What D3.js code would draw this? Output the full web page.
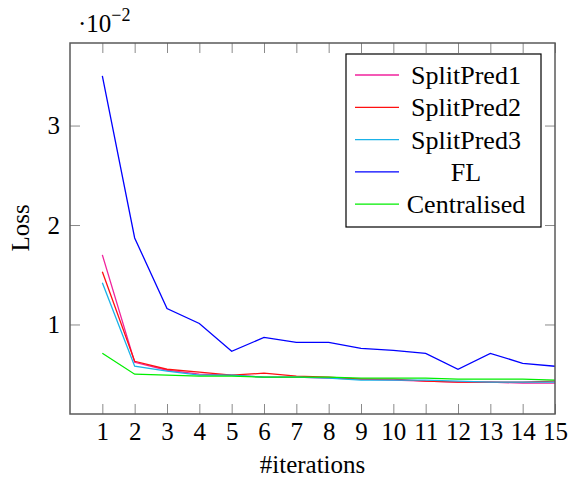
<!DOCTYPE html>
<html>
<head>
<meta charset="utf-8">
<script src="https://cdn.jsdelivr.net/npm/d3@7"></script>
<style>
  body { margin: 0; background: #fff; }
  text { font-family: "Liberation Serif", "Times New Roman", serif; fill: #000; }
</style>
</head>
<body>
<div id="chart"></div>
<script>
// data (loss values, x10^-2)
const iterations = [1, 2, 3, 4, 5, 6, 7, 8, 9, 10, 11, 12, 13, 14, 15];
const seriesNames = ["SplitPred1", "SplitPred2", "SplitPred3", "FL", "Centralised"];
const splitPred1 = [1.70, 0.62, 0.54, 0.50, 0.49, 0.47, 0.47, 0.46, 0.45, 0.44, 0.43, 0.42, 0.42, 0.41, 0.41];
const splitPred2 = [1.53, 0.63, 0.55, 0.52, 0.49, 0.51, 0.48, 0.47, 0.45, 0.45, 0.43, 0.42, 0.42, 0.42, 0.43];
const splitPred3 = [1.42, 0.58, 0.53, 0.49, 0.49, 0.47, 0.47, 0.46, 0.44, 0.44, 0.44, 0.43, 0.42, 0.42, 0.42];
const fl = [3.50, 1.87, 1.16, 1.01, 0.73, 0.87, 0.82, 0.82, 0.76, 0.74, 0.71, 0.55, 0.71, 0.61, 0.58];
const centralised = [0.71, 0.50, 0.49, 0.48, 0.48, 0.47, 0.47, 0.47, 0.46, 0.46, 0.46, 0.45, 0.45, 0.45, 0.44];
const yTicks = [1, 2, 3];

const colors = ["#f0229c", "#ff1010", "#1ab2e8", "#0000ff", "#00ee00"];
const allSeries = [splitPred1, splitPred2, splitPred3, fl, centralised];

const width = 569, height = 481;
const margin = { top: 43, right: 14, bottom: 67, left: 70 };

let svg = d3.select("#chart")
    .append("svg")
    .attr("width", width)
    .attr("height", height);

let x = d3.scaleLinear().domain([0, 15]).range([margin.left, width - margin.right]);
let y = d3.scaleLinear().domain([0.1, 3.83]).range([height - margin.bottom, margin.top]);

const tickColor = "#8a8a8a";

// bottom axis (ticks pointing inward)
let gx = svg.append("g")
    .attr("transform", "translate(0," + y.range()[0] + ")")
    .call(d3.axisBottom(x).tickValues(iterations).tickSize(-10).tickPadding(8).tickFormat(d3.format("d")));
// top axis ticks
let gxTop = svg.append("g")
    .attr("transform", "translate(0," + y.range()[1] + ")")
    .call(d3.axisTop(x).tickValues(iterations).tickSize(-10).tickFormat(""));
// left axis
let gy = svg.append("g")
    .attr("transform", "translate(" + x.range()[0] + ",0)")
    .call(d3.axisLeft(y).tickValues(yTicks).tickSize(-10).tickPadding(10).tickFormat(d3.format("d")));
// right axis ticks
let gyRight = svg.append("g")
    .attr("transform", "translate(" + x.range()[1] + ",0)")
    .call(d3.axisRight(y).tickValues(yTicks).tickSize(-10).tickFormat(""));

[gx, gxTop, gy, gyRight].forEach(g => {
    g.select(".domain").remove();
    g.selectAll(".tick line").attr("stroke", tickColor).attr("stroke-width", 1);
    g.selectAll("text").style("font-family", "Liberation Serif, serif").style("font-size", "25px").attr("fill", "#000");
});

// lines
let line = d3.line()
    .x((d, i) => x(iterations[i]))
    .y(d => y(d));

svg.selectAll(".series")
    .data(allSeries)
    .enter()
    .append("path")
    .attr("class", "series")
    .attr("d", d => line(d))
    .attr("fill", "none")
    .attr("stroke", (d, i) => colors[i])
    .attr("stroke-width", 1.3);

// frame
svg.append("rect")
    .attr("x", x.range()[0])
    .attr("y", y.range()[1])
    .attr("width", x.range()[1] - x.range()[0])
    .attr("height", y.range()[0] - y.range()[1])
    .attr("fill", "none")
    .attr("stroke", "#5a5a5a")
    .attr("stroke-width", 1.5);

// scale label
let scaleLabel = svg.append("text")
    .attr("x", 78)
    .attr("y", 32)
    .style("font-size", "25px");
scaleLabel.append("tspan").text("\u00B710");
scaleLabel.append("tspan").attr("dy", -11).style("font-size", "18px").text("\u22122");

// axis labels
svg.append("text")
    .attr("x", (x.range()[0] + x.range()[1]) / 2)
    .attr("y", 473)
    .style("text-anchor", "middle")
    .style("font-size", "25px")
    .text("#iterations");

svg.append("text")
    .attr("transform", "rotate(-90)")
    .attr("x", -228)
    .attr("y", 29)
    .style("text-anchor", "middle")
    .style("font-size", "25px")
    .text("Loss");

// legend
let legend = svg.append("g");
legend.append("rect")
    .attr("x", 346)
    .attr("y", 54)
    .attr("width", 195)
    .attr("height", 173)
    .attr("fill", "#fff")
    .attr("stroke", "#000")
    .attr("stroke-width", 1.2);

let rows = legend.selectAll(".row")
    .data(seriesNames)
    .enter()
    .append("g")
    .attr("class", "row")
    .attr("transform", (d, i) => "translate(0," + (75 + i * 32.3) + ")");
rows.append("line")
    .attr("x1", 355).attr("x2", 399)
    .attr("y1", 0).attr("y2", 0)
    .attr("stroke", (d, i) => colors[i])
    .attr("stroke-width", 1.3);
rows.append("text")
    .attr("x", 466)
    .attr("y", 9)
    .style("text-anchor", "middle")
    .style("font-size", "26px")
    .text(d => d);
</script>
</body>
</html>
